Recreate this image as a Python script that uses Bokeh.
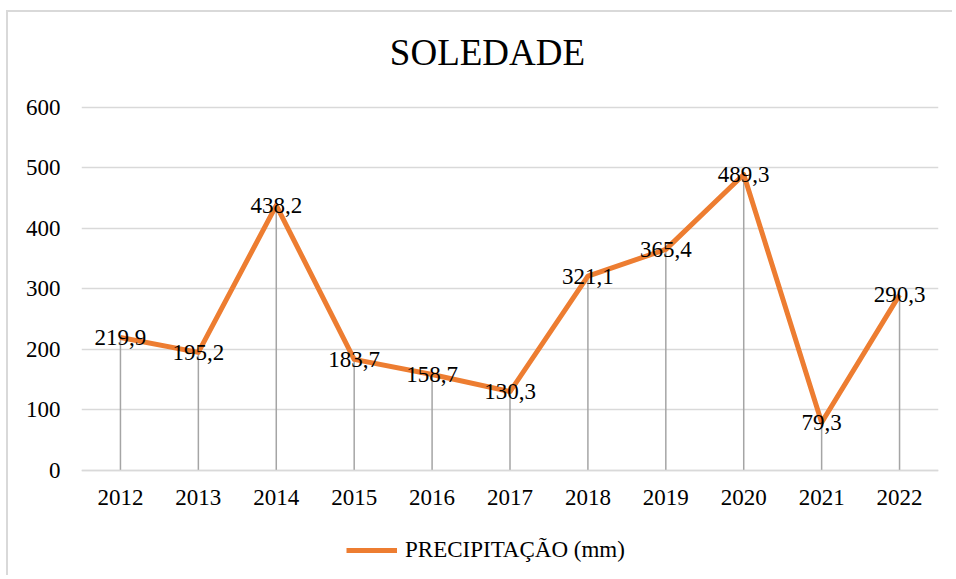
from bokeh.plotting import figure
from bokeh.models import Range1d, FactorRange, ColumnDataSource, Legend, LegendItem, Label
from bokeh.core.properties import value
from bokeh.embed import file_html
from bokeh.resources import INLINE

years = ["2012", "2013", "2014", "2015", "2016", "2017", "2018", "2019", "2020", "2021", "2022"]
precip = [219.9, 195.2, 438.2, 183.7, 158.7, 130.3, 321.1, 365.4, 489.3, 79.3, 290.3]
labels = [f"{v:.1f}".replace(".", ",") for v in precip]
y_ticks = [0, 100, 200, 300, 400, 500, 600]
title_text = "SOLEDADE"
series_name = "PRECIPITAÇÃO (mm)"

FONT = "Liberation Serif"
ORANGE = "#ED7D31"

src = ColumnDataSource(dict(x=years, y=precip, zero=[0] * len(years), lab=labels))

# the frame fills the whole chart area (top to bottom) so that title, axis labels
# and legend are drawn inside it; only the 0-600 ticks get grid lines
p = figure(width=946, height=565, output_backend="svg", toolbar_location=None,
           x_range=FactorRange(*years, range_padding=0), y_range=Range1d(-176.9, 757.0),
           min_border_left=73, min_border_right=16, min_border_top=0, min_border_bottom=0)
p.styles = {"border-left": "2px solid #D9D9D9", "border-top": "2px solid #D9D9D9",
            "margin-top": "10px", "margin-left": "6px"}

p.add_layout(Label(text=title_text, x=406, y=525, x_units="screen", y_units="screen",
                   text_align="center", text_baseline="alphabetic", text_font=FONT,
                   text_font_size="37px", text_color="#000000"))

p.outline_line_color = None
p.xgrid.grid_line_color = None
p.ygrid.grid_line_color = "#D9D9D9"
p.ygrid.grid_line_width = 1.5
p.yaxis.ticker = y_ticks

for ax in (p.xaxis, p.yaxis):
    ax.major_tick_line_color = None
    ax.minor_tick_line_color = None
    ax.major_tick_out = 0
    ax.major_label_text_font = FONT
    ax.major_label_text_font_size = "23px"
    ax.major_label_text_color = "#000000"
p.yaxis.axis_line_color = None
p.xaxis.fixed_location = 0
p.xaxis.axis_line_color = "#D9D9D9"
p.xaxis.axis_line_width = 1.5
p.yaxis.major_label_standoff = 21
p.xaxis.major_label_standoff = 20

p.segment(x0="x", y0="zero", x1="x", y1="y", source=src, line_color="#A5A5A5", line_width=1.5)
line = p.line(x="x", y="y", source=src, line_color=ORANGE, line_width=5, line_join="round")
p.text(x="x", y="y", text="lab", source=src, text_align="center", text_baseline="middle",
       text_font=value(FONT), text_font_size="23px", text_color="#000000")

legend = Legend(items=[LegendItem(label=series_name, renderers=[line])],
                location=(265, 14), orientation="horizontal",
                border_line_color=None, background_fill_alpha=0,
                label_text_font=FONT, label_text_font_size="23px", label_text_color="#000000",
                glyph_width=51, glyph_height=26, label_height=26, label_standoff=8,
                padding=0, margin=0)
p.add_layout(legend, "center")

open("out.html", "w").write(file_html(p, INLINE))
